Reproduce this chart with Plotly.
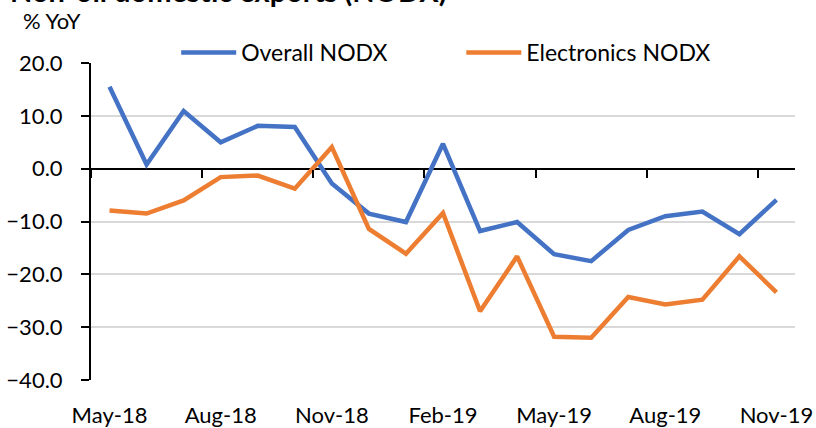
import plotly.graph_objects as go

months = ["May-18", "Jun-18", "Jul-18", "Aug-18", "Sep-18", "Oct-18", "Nov-18", "Dec-18",
          "Jan-19", "Feb-19", "Mar-19", "Apr-19", "May-19", "Jun-19", "Jul-19", "Aug-19",
          "Sep-19", "Oct-19", "Nov-19"]
overall_nodx = [15.5, 0.8, 10.9, 5.0, 8.1, 7.9, -2.8, -8.5, -10.1, 4.7, -11.8, -10.1,
                -16.2, -17.5, -11.6, -9.0, -8.1, -12.4, -5.9]
electronics_nodx = [-7.9, -8.5, -6.0, -1.6, -1.3, -3.8, 4.1, -11.4, -16.1, -8.4, -27.0, -16.6,
                    -31.8, -32.0, -24.3, -25.7, -24.8, -16.6, -23.4]
y_ticks = [-40, -30, -20, -10, 0, 10, 20]
title_text = "Non-oil domestic exports (NODX)"
unit_text = "% YoY"

FONT = "Lato"
BLUE = "#4472C4"
ORANGE = "#ED7D31"
FS = 22

fig = go.Figure()
fig.add_trace(go.Scatter(x=months, y=overall_nodx, mode="lines", name="Overall NODX",
                         line=dict(color=BLUE, width=4.5), legend="legend"))
fig.add_trace(go.Scatter(x=months, y=electronics_nodx, mode="lines", name="Electronics NODX",
                         line=dict(color=ORANGE, width=4.5), legend="legend2"))

n = len(months)
boundaries = [i - 0.5 for i in range(0, n, 3)]

fig.update_layout(
    width=816, height=428,
    margin=dict(l=91, r=21, t=63, b=48, autoexpand=False),
    plot_bgcolor="white", paper_bgcolor="white",
    font=dict(family=FONT, size=FS, color="black"),
    xaxis=dict(type="category", categoryarray=months, range=[-0.5, n - 0.5],
               tickmode="array", tickvals=months[::3], ticktext=months[::3],
               showline=False, ticks="", showgrid=False, zeroline=False,
               ticklabelstandoff=20, tickfont=dict(size=FS)),
    xaxis2=dict(overlaying="x", anchor="free", position=2/3, range=[-0.5, n - 0.5],
                tickmode="array", tickvals=boundaries, showticklabels=False,
                ticks="outside", ticklen=8, tickwidth=2, tickcolor="black",
                showline=False, showgrid=False, zeroline=False),
    yaxis=dict(range=[-40, 20], tickmode="array", tickvals=y_ticks, tickformat=".1f",
               showline=True, linecolor="black", linewidth=2,
               ticks="outside", ticklen=8, tickwidth=2, tickcolor="black",
               showgrid=True, gridcolor="#d9d9d9", gridwidth=1.5,
               zeroline=True, zerolinecolor="black", zerolinewidth=2,
               ticklabelstandoff=14, tickfont=dict(size=FS)),
    legend=dict(orientation="h", x=0.121, xanchor="left", y=1.033, yanchor="middle",
                font=dict(size=23), bgcolor="rgba(0,0,0,0)", itemwidth=55),
    legend2=dict(orientation="h", x=0.526, xanchor="left", y=1.033, yanchor="middle",
                 font=dict(size=23), bgcolor="rgba(0,0,0,0)", itemwidth=55),
    annotations=[
        dict(text="<b>" + title_text + "</b>", xref="paper", yref="paper",
             x=-0.118, xanchor="left", y=1.168, yanchor="bottom", showarrow=False,
             font=dict(size=29, family=FONT)),
        dict(text=unit_text, xref="paper", yref="paper", x=-0.099, xanchor="left",
             y=1.1356, yanchor="middle", showarrow=False, font=dict(size=22, family=FONT)),
    ],
)
# invisible trace so the zero-line tick axis is drawn
fig.add_trace(go.Scatter(x=[-0.5, n - 0.5], y=[0, 0], xaxis="x2", mode="lines",
                         line=dict(width=0), hoverinfo="skip", showlegend=False))

fig.write_html("out.html", config={"displayModeBar": False},
               post_script="document.body.style.margin='0';document.body.style.overflow='hidden';")
